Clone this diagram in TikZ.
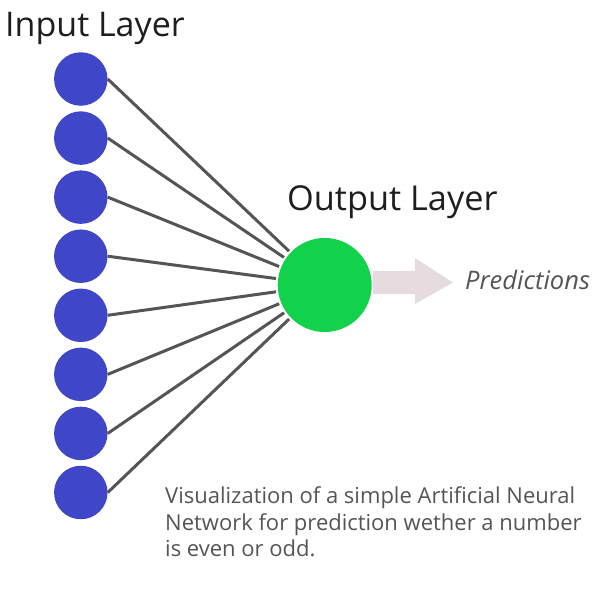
\documentclass[tikz,border=0pt]{standalone}
\usepackage{fontspec}
\setmainfont{Open Sans}
\definecolor{inblue}{HTML}{4046C8}
\definecolor{outgreen}{HTML}{12D14A}
\definecolor{linkgray}{HTML}{555555}
\definecolor{arrowpink}{HTML}{E6DCDF}
\definecolor{txtdark}{HTML}{1E1E1E}
\definecolor{txtgray}{HTML}{555555}
\begin{document}
\begin{tikzpicture}[x=1pt,y=-1pt,
  inneuron/.style={circle,fill=inblue,minimum size=53.5pt,inner sep=0pt},
  outneuron/.style={circle,fill=outgreen,minimum size=94pt,inner sep=0pt},
  link/.style={draw=linkgray,line width=3pt,shorten >=2pt},
  label/.style={anchor=base west,inner sep=0pt,text=txtdark}]
\useasboundingbox (0,0) rectangle (605,606);
\foreach \i in {0,...,7}{
  \node[inneuron] (in\i) at (80.8,{79+59.07*\i}) {};
}
\node[outneuron] (out) at (324.7,285) {};
\foreach \i in {0,...,7}{
  \draw[link] (in\i.east) -- (out);
}
\fill[arrowpink] (373,271) -- (415,271) -- (415,258) -- (453,282.5) -- (415,304) -- (415,294) -- (373,294) -- cycle;
\node[label,font=\fontsize{34}{40}\selectfont] (inl) at (5,36) {Input Layer};
\node[label,font=\fontsize{34.3}{40}\selectfont] (outl) at (287,210) {Output Layer};
\node[label,text=txtgray,font=\fontsize{25.5}{30}\itshape\selectfont] (pred) at (465,289) {Predictions};
\node[label,text=txtgray,align=left,anchor=north west,font=\fontsize{22}{26.7}\selectfont] (cap) at (165,486.5) {Visualization of a simple Artificial Neural\\Network for prediction wether a number\\is even or odd.};
\end{tikzpicture}
\end{document}
